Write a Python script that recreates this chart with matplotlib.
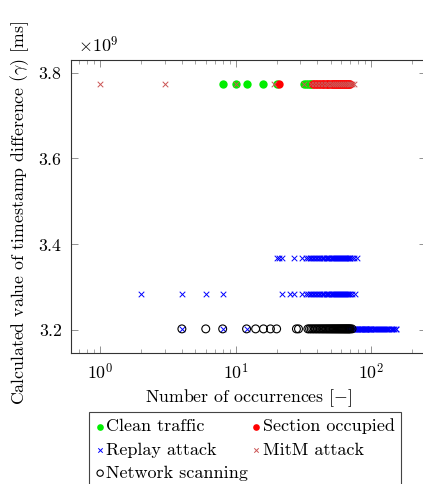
import matplotlib
matplotlib.use("Agg")
import matplotlib.pyplot as plt
from matplotlib.ticker import LogLocator, NullFormatter, ScalarFormatter

plt.rcParams['font.family'] = 'cmr10'
plt.rcParams['mathtext.fontset'] = 'cm'
plt.rcParams['axes.formatter.use_mathtext'] = True
plt.rcParams['font.size'] = 12.8

# --- data ---
# timestamp difference levels (ms)
LEVEL_TOP = 3.774e9
LEVEL_HIGH = 3.368e9
LEVEL_MID = 3.284e9
LEVEL_LOW = 3.202e9

clean_x = [8, 10, 12, 16, 20, 32, 33, 34, 35, 36]
clean_y = [LEVEL_TOP] * len(clean_x)

section_x = [21, 37, 38, 39, 40, 41, 42, 43, 44, 45, 46, 47, 48, 49, 50, 51, 52,
             53, 54, 55, 56, 57, 58, 59, 60, 61, 62, 63, 64, 65, 66, 67, 68, 69]
section_y = [LEVEL_TOP] * len(section_x)

replay_x_high = [20, 21, 22, 27, 31, 33, 34, 35, 36, 37, 38, 39, 40, 41, 42, 43, 44,
                 45, 46, 47, 48, 49, 50, 51, 52, 53, 54, 55, 56, 57, 58, 59, 60, 61,
                 62, 63, 64, 65, 66, 67, 68, 69, 70, 72, 74, 78]
replay_x_mid = [2, 4, 6, 8, 22, 25, 27, 31, 33, 34, 35, 36, 37, 38, 39, 40, 41, 42,
                43, 44, 45, 46, 47, 48, 49, 50, 51, 52, 53, 54, 55, 56, 57, 58, 59,
                60, 61, 62, 63, 64, 65, 66, 67, 68, 70, 72, 76]
replay_x_low = [4, 8, 12, 65, 66, 67, 68, 69, 70, 71, 72, 73, 74, 75, 76, 77, 78, 79,
                80, 81, 82, 83, 84, 85, 86, 87, 88, 89, 90, 91, 92, 93, 94, 95, 96,
                97, 98, 99, 100, 102, 104, 106, 108, 110, 112, 114, 116, 118, 120,
                122, 124, 126, 128, 130, 133, 136, 139, 142, 145, 148, 151, 153]
replay_x = replay_x_high + replay_x_mid + replay_x_low
replay_y = ([LEVEL_HIGH] * len(replay_x_high) + [LEVEL_MID] * len(replay_x_mid)
            + [LEVEL_LOW] * len(replay_x_low))

mitm_x = [1, 3, 10, 19, 32, 36, 38, 40, 42, 44, 46, 48, 50, 52, 54, 56, 58, 60,
          62, 64, 66, 68, 70, 72, 74]
mitm_y = [LEVEL_TOP] * len(mitm_x)

scan_x = [4, 6, 8, 12, 14, 16, 18, 20, 28, 29, 34, 35, 36, 37, 38, 39, 40, 41, 42,
          43, 44, 45, 46, 47, 48, 49, 50, 51, 52, 53, 54, 55, 56, 57, 58, 59, 60,
          61, 62, 63, 64, 65, 66, 67, 68, 69, 70, 72]
scan_y = [LEVEL_LOW] * len(scan_x)

W, H = 423, 484
fig = plt.figure(figsize=(W / 100, H / 100), dpi=100)
ax = fig.add_axes([70.7 / W, 1 - 353.3 / H, 355.3 / W, (353.3 - 59.5) / H])

h_clean = ax.scatter(clean_x, clean_y, s=36, color='#00ee00', marker='o',
                     linewidths=0, label='Clean traffic')
h_sec = ax.scatter(section_x, section_y, s=36, color='#ff0000', marker='o',
                   linewidths=0, label='Section occupied')
h_rep = ax.scatter(replay_x, replay_y, s=16, color='#0000ff', marker='x',
                   linewidths=0.7, label='Replay attack')
h_mitm = ax.scatter(mitm_x, mitm_y, s=16, color='#cc5555', marker='x',
                    linewidths=0.7, label='MitM attack')
h_scan = ax.scatter(scan_x, scan_y, s=32, facecolors='none', edgecolors='black',
                    marker='o', linewidths=0.8, label='Network scanning')

ax.set_xscale('log')
ax.set_xlim(0.605, 253)
ax.set_ylim(3.145e9, 3.831e9)
ax.set_yticks([3.2e9, 3.4e9, 3.6e9, 3.8e9])
fmt = ScalarFormatter(useMathText=True)
ax.yaxis.set_major_formatter(fmt)
ax.yaxis.get_offset_text().set_visible(False)
ax.text(78 / W, 1 - 52 / H, r'$\times10^9$', transform=fig.transFigure,
        ha='left', va='baseline', fontsize=13)
ax.xaxis.set_major_locator(LogLocator(base=10))
ax.xaxis.set_minor_locator(LogLocator(base=10, subs=range(2, 10)))
ax.xaxis.set_minor_formatter(NullFormatter())

ax.tick_params(which='both', direction='in', top=True, right=True, color='#808080')
ax.tick_params(which='major', length=5, width=0.6, pad=6)
ax.tick_params(which='minor', length=3, width=0.5)
for sp in ax.spines.values():
    sp.set_linewidth(0.8)
    sp.set_color('#333333')

ax.set_xlabel(r'Number of occurrences [$-$]', labelpad=4)
ax.set_ylabel(r'Calculated value of timestamp difference ($\gamma$) [ms]', labelpad=5)
ax.yaxis.label.set_y(0.478)

# row-wise order like the reference legend
handles = [h_clean, h_rep, h_scan, h_sec, h_mitm]
labels = [h.get_label() for h in handles]
leg = fig.legend(handles, labels, loc='upper left',
                 bbox_to_anchor=(89.3 / W, 1 - 412.3 / H), ncol=2, borderaxespad=0,
                 frameon=True, fancybox=False, edgecolor='#444444', framealpha=1,
                 handletextpad=0.1, columnspacing=0.2, borderpad=0.35,
                 labelspacing=0.42, handlelength=0.5, markerscale=0.8, fontsize=13)
leg.get_frame().set_linewidth(0.8)

fig.savefig('out.png', dpi=100)
